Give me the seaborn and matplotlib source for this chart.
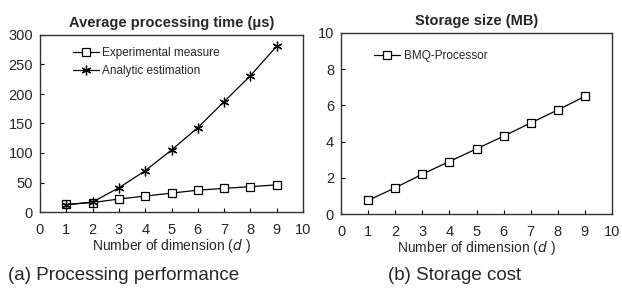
import pandas as pd
import matplotlib.pyplot as plt
import seaborn as sns

# Values
dims = [1, 2, 3, 4, 5, 6, 7, 8, 9]
experimental = [13, 16, 22, 27, 32, 37, 40, 43, 46]
analytic = [12, 17, 41, 70, 105, 143, 187, 231, 281]
storage_mb = [0.75, 1.45, 2.2, 2.9, 3.6, 4.3, 5.03, 5.75, 6.5]

sns.set_theme(style="ticks")
plt.rcParams['font.family'] = ['Liberation Sans', 'DejaVu Sans']

fig = plt.figure(figsize=(6.22, 2.89), dpi=100)
ax1 = fig.add_axes([40/622, 1-212/289, 263/622, 177/289])
ax2 = fig.add_axes([341/622, 1-214/289, 271/622, 181/289])

df = pd.DataFrame({'d': dims, 'exp': experimental, 'ana': analytic, 'mb': storage_mb})

sq = dict(marker='s', markersize=5.5, markerfacecolor='white', markeredgecolor='black',
          markeredgewidth=0.9, color='black', linewidth=0.9)
ast = dict(marker=(6, 2, 0), markersize=7, markeredgecolor='black',
           markeredgewidth=0.9, color='black', linewidth=0.9)

sns.lineplot(data=df, x='d', y='exp', ax=ax1, label='Experimental measure', **sq)
sns.lineplot(data=df, x='d', y='ana', ax=ax1, label='Analytic estimation', **ast)
sns.lineplot(data=df, x='d', y='mb', ax=ax2, label='BMQ-Processor', **sq)

panels = [
    (ax1, 300, 50, 'Average processing time (\u03bcs)', '(a) Processing performance', 124, (0.08, 1.0)),
    (ax2, 10, 2, 'Storage size (MB)', '(b) Storage cost', 455, (0.08, 0.97)),
]
for ax, ymax, ystep, title, cap, cap_x, anchor in panels:
    ax.set_xlim(0, 10)
    ax.set_ylim(0, ymax)
    ax.set_xticks(range(0, 11))
    ax.set_yticks(range(0, ymax + 1, ystep))
    ax.tick_params(direction='in', length=3, width=0.8, labelsize=10.5, color='black')
    ax.tick_params(axis='x', pad=8)
    ax.tick_params(axis='y', pad=5)
    for s in ax.spines.values():
        s.set_visible(True)
        s.set_color('#333333')
        s.set_linewidth(1.0)
    ax.set_title(title, fontsize=10.5, fontweight='bold', pad=6)
    ax.set_xlabel('Number of dimension ($\\mathit{d}$ )', fontsize=10, labelpad=0)
    ax.set_ylabel('')
    ax.legend(loc='upper left', frameon=False, fontsize=8.5, handlelength=2.2,
              handletextpad=0.3, labelspacing=0.55, borderaxespad=0.6,
              bbox_to_anchor=anchor)
    fig.text(cap_x / 622, 1 - 275/289, cap, ha='center', va='center', fontsize=13.5)

fig.savefig('out.png', dpi=100)
